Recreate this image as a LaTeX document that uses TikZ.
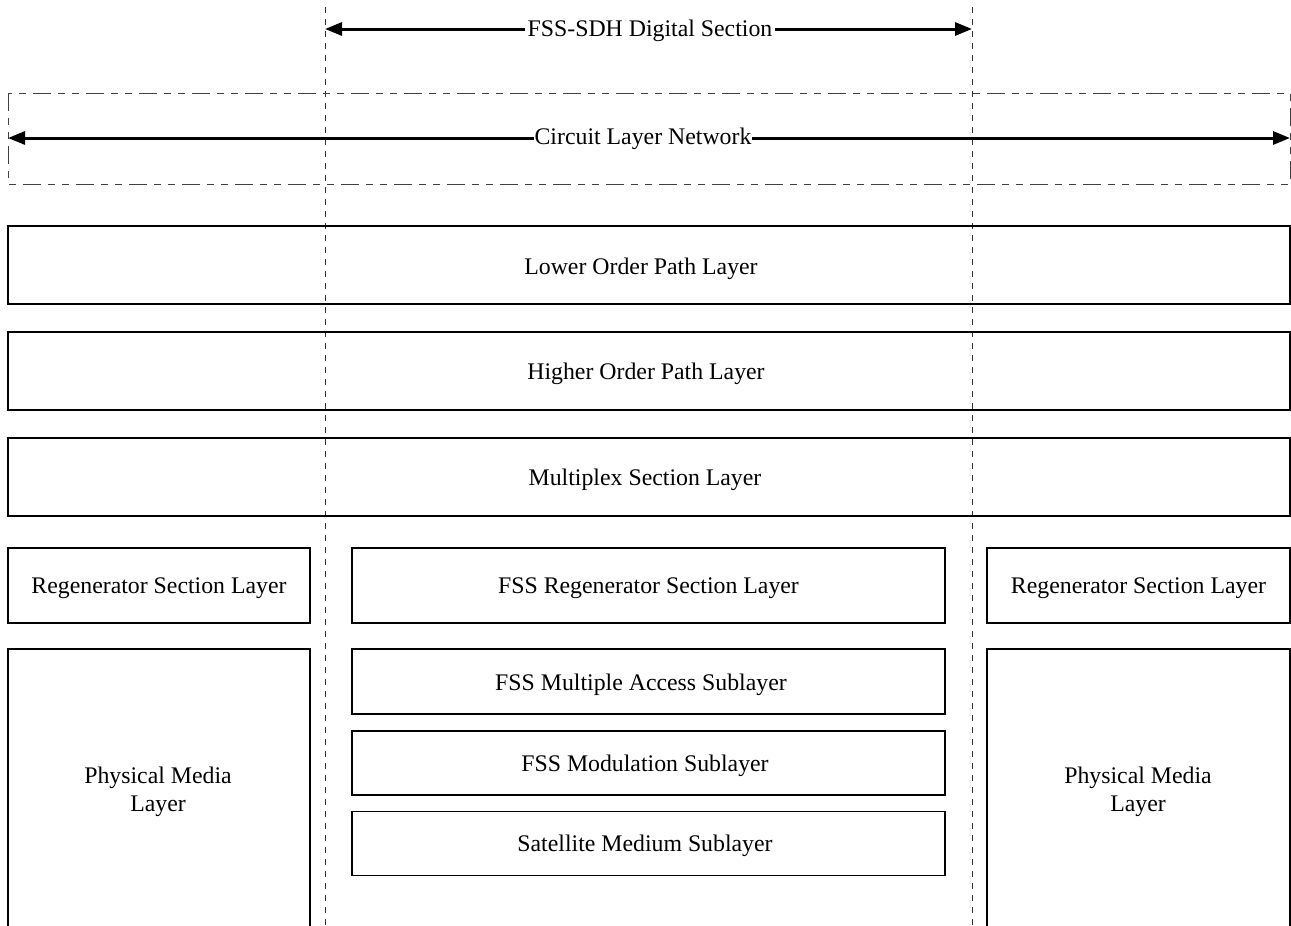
\documentclass[tikz,border=0pt]{standalone}
\usepackage{fontspec}
\setmainfont{Liberation Serif}
\usetikzlibrary{arrows.meta}
\begin{document}
\begin{tikzpicture}[x=1pt,y=-1pt,
  every node/.style={font=\fontsize{23.8}{28}\selectfont},
  layer/.style={draw, line width=1.3pt, inner sep=0pt},
  span/.style={line width=3pt, {Triangle[length=17pt,width=13pt]}-{Triangle[length=17pt,width=13pt]}},
  guide/.style={line width=1pt, black!80, dash pattern=on 6pt off 6pt},
  framebox/.style={line width=1pt, black!75, dash pattern=on 18pt off 7pt on 7pt off 7pt on 7pt off 7pt}]
\useasboundingbox (0,0) rectangle (1291,926);

% section boundaries
\coordinate (gLt) at (325,7);   \coordinate (gLb) at (325,926);
\coordinate (gRt) at (972,7);   \coordinate (gRb) at (972,926);
\draw[guide] (gLt) -- (gLb);
\draw[guide] (gRt) -- (gRb);

% FSS-SDH digital section span
\coordinate (dsL) at (325,29);
\coordinate (dsR) at (972,29);
\draw[span] (dsL) -- (dsR);
\node[fill=white, inner sep=3pt] (ds) at (650,31) {FSS-SDH Digital Section};

% circuit layer network
\draw[framebox] (8,93) rectangle (1290,184);
\coordinate (clL) at (8,138);
\coordinate (clR) at (1290,138);
\draw[span] (clL) -- (clR);
\node[fill=white, inner sep=1pt] (cl) at (643,139) {Circuit Layer Network};

% common layers
\node[layer, minimum width=1282pt, minimum height=78pt] (lop) at (649,265) {};
\node (lopt) at (641,269) {Lower Order Path Layer};
\node[layer, minimum width=1282pt, minimum height=78pt] (hop) at (649,371) {};
\node (hopt) at (646,374) {Higher Order Path Layer};
\node[layer, minimum width=1282pt, minimum height=78pt] (msl) at (649,477) {};
\node (mslt) at (645,480) {Multiplex Section Layer};

% regenerator sections
\node[layer, minimum width=302pt, minimum height=75pt] (rsL) at (159,585.5) {};
\node (rsLt) at (159,588) {Regenerator Section Layer};
\node[layer, minimum width=593pt, minimum height=75pt] (rsF) at (648.5,585.5) {};
\node (rsFt) at (648.5,588) {FSS Regenerator Section Layer};
\node[layer, minimum width=303pt, minimum height=75pt] (rsR) at (1138.5,585.5) {};
\node (rsRt) at (1138.5,588) {Regenerator Section Layer};

% FSS sublayers
\node[layer, minimum width=593pt, minimum height=65pt] (ma) at (648.5,681.5) {};
\node (mat) at (641,685) {FSS Multiple Access Sublayer};
\node[layer, minimum width=593pt, minimum height=64pt] (mod) at (648.5,763) {};
\node (modt) at (645,766) {FSS Modulation Sublayer};
\node[layer, minimum width=593pt, minimum height=64pt] (sat) at (648.5,843.5) {};
\node (satt) at (645,846) {Satellite Medium Sublayer};

% physical media (open at the bottom)
\draw[line width=1.3pt] (8,940) -- (8,649) -- (310,649) -- (310,940);
\node[align=center] (pmL) at (158,792) {Physical Media\\Layer};
\draw[line width=1.3pt] (987,940) -- (987,649) -- (1290,649) -- (1290,940);
\node[align=center] (pmR) at (1138,792) {Physical Media\\Layer};
\end{tikzpicture}
\end{document}
